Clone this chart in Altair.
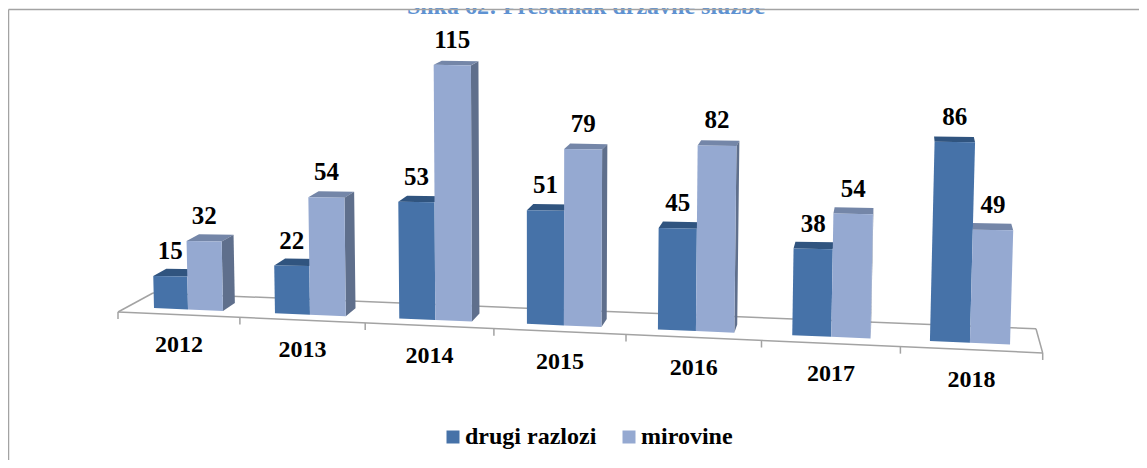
import altair as alt
import pandas as pd

# ---- data ----
years = ["2012", "2013", "2014", "2015", "2016", "2017", "2018"]
drugi_razlozi = [15, 22, 53, 51, 45, 38, 86]
mirovine = [32, 54, 115, 79, 82, 54, 49]
series_names = ["drugi razlozi", "mirovine"]
title_text = "Slika 62: Prestanak državne službe"

SERIF = "Liberation Serif"
W, H = 1131, 452
FRONT = {"drugi razlozi": "#4672A8", "mirovine": "#95A9D1"}
TOP = {"drugi razlozi": "#30547F", "mirovine": "#7486A8"}
SIDE = {"drugi razlozi": "#30547F", "mirovine": "#5F6F8C"}
GREY = "#A3A3A3"

xs = alt.Scale(domain=[8, 8 + W], nice=False, zero=False)
ys = alt.Scale(domain=[8 + H, 8], nice=False, zero=False)


# ---- oblique projection of the 3-D scene onto the page ----
def bar_left(i):
    return 154 + 119.3 * i + 1.67 * i * i

def floor_y(x):
    return 308 + 0.0425 * (x - 154)

def px_per_unit(i, v):
    return 2.13 + 0.027 * i + 0.0003 * v

def lean(x, h):
    return 0.00006 * (x - 540) * h

def depth_x(x):
    return 0.0175 * (900 - x)

def depth_y(y):
    return 3 + 0.0155 * y

def tick_x(i):
    return 118 + 120.2 * i + 1.7 * i * i

def front_y(x):
    return 312 + 0.0443 * (x - 118)

def back_y(x):
    return 293 + 0.0405 * (x - 153)


def polygon_rows(points):
    """Split a convex polygon into left/right spans for a horizontal area."""
    levels = sorted({p[1] for p in points})
    n = len(points)
    rows = []
    for y in levels:
        found = []
        for k in range(n):
            (x1, y1), (x2, y2) = points[k], points[(k + 1) % n]
            if min(y1, y2) <= y <= max(y1, y2):
                if y1 == y2:
                    found += [x1, x2]
                else:
                    found.append(x1 + (y - y1) / (y2 - y1) * (x2 - x1))
        rows.append((y, min(found), max(found)))
    return rows


front_rows, shade_rows, value_rows = [], [], []
for i, year in enumerate(years):
    left = bar_left(i)
    w1 = 34 + i
    w2 = 35 + 0.85 * i
    spans = [
        ("drugi razlozi", drugi_razlozi[i], left, left + w1),
        ("mirovine", mirovine[i], left + w1, left + w1 + w2),
    ]
    for name, v, xl, xr in spans:
        h = v * px_per_unit(i, v)
        yb_l, yb_r = floor_y(xl), floor_y(xr)
        ln_l, ln_r = lean(xl, h), lean(xr, h)
        fbl, fbr = (xl, yb_l), (xr, yb_r)
        ftl = (xl + ln_l, yb_l - h)
        ftr = (xr + ln_r, yb_l - h + 0.015 * (xr - xl))
        dx_r, dx_l = depth_x(xr), depth_x(xl)
        dy_t = depth_y(ftl[1])
        btl = (ftl[0] + dx_l, ftl[1] - dy_t)
        btr = (ftr[0] + dx_r, ftr[1] - dy_t)
        bbr = (xr + dx_r, yb_r - depth_y(yb_r))
        fid = f"{year}-{name}"
        for y, a, b in polygon_rows([ftl, ftr, fbr, fbl]):
            front_rows.append(dict(face=fid, series=name, y=y, x=a, x2=b))
        for y, a, b in polygon_rows([btl, btr, ftr, ftl]):
            shade_rows.append(dict(face=fid + "-top", c=TOP[name], y=y, x=a, x2=b))
        if dx_r > 0.4 and name == "mirovine":
            for y, a, b in polygon_rows([ftr, btr, bbr, fbr]):
                shade_rows.append(dict(face=fid + "-side", c=SIDE[name], y=y, x=a, x2=b))
        value_rows.append(dict(x=(xl + xr) / 2 + (ln_l + ln_r) / 2, y=yb_l - h - 25, t=str(v)))

front_df = pd.DataFrame(front_rows)
shade_df = pd.DataFrame(shade_rows)
value_df = pd.DataFrame(value_rows)

# floor
floor_rows = [
    dict(x=tick_x(0), y=front_y(tick_x(0)), x2=tick_x(7), y2=front_y(tick_x(7))),
    dict(x=tick_x(0), y=front_y(tick_x(0)), x2=153, y2=back_y(153)),
    dict(x=153, y=back_y(153), x2=1036, y2=back_y(1036)),
    dict(x=1036, y=back_y(1036), x2=tick_x(7), y2=front_y(tick_x(7))),
]
for i in range(8):
    t = tick_x(i)
    floor_rows.append(dict(x=t, y=front_y(t), x2=t, y2=front_y(t) + 7))
floor_df = pd.DataFrame(floor_rows)

year_df = pd.DataFrame(
    [
        dict(
            x=(tick_x(i) + tick_x(i + 1)) / 2,
            y=front_y((tick_x(i) + tick_x(i + 1)) / 2) + 30,
            t=y,
        )
        for i, y in enumerate(years)
    ]
)

frame_df = pd.DataFrame(
    [
        dict(x=8.5, y=9.5, x2=8.5, y2=8 + H),
        dict(x=8.5, y=9.5, x2=8 + W, y2=9.5),
    ]
)
title_df = pd.DataFrame([dict(x=586, y=14, t=title_text)])


def rules(df, width):
    return (
        alt.Chart(df)
        .mark_rule(color=GREY, strokeWidth=width)
        .encode(
            x=alt.X("x:Q", scale=xs, axis=None),
            y=alt.Y("y:Q", scale=ys, axis=None),
            x2="x2:Q",
            y2="y2:Q",
        )
    )


shade = (
    alt.Chart(shade_df)
    .mark_area(orient="horizontal", interpolate="linear")
    .encode(
        x=alt.X("x:Q", scale=xs, axis=None),
        x2="x2:Q",
        y=alt.Y("y:Q", scale=ys, axis=None),
        detail="face:N",
        fill=alt.Fill("c:N", scale=None),
    )
)

front = (
    alt.Chart(front_df)
    .mark_area(orient="horizontal", interpolate="linear")
    .encode(
        x=alt.X("x:Q", scale=xs, axis=None),
        x2="x2:Q",
        y=alt.Y("y:Q", scale=ys, axis=None),
        detail="face:N",
        color=alt.Color(
            "series:N",
            scale=alt.Scale(domain=series_names, range=[FRONT[s] for s in series_names]),
            legend=alt.Legend(
                orient="none",
                legendX=433,
                legendY=417,
                direction="horizontal",
                title=None,
                symbolType="square",
                symbolSize=169,
                symbolStrokeWidth=0,
                labelFont=SERIF,
                labelFontSize=24,
                labelFontWeight="bold",
                labelColor="#000000",
                labelOffset=0,
                columnPadding=20,
                padding=0,
            ),
        ),
    )
)


def texts(df, size, color="#000000"):
    return (
        alt.Chart(df)
        .mark_text(font=SERIF, fontSize=size, fontWeight="bold", color=color, baseline="middle", align="center")
        .encode(
            x=alt.X("x:Q", scale=xs, axis=None),
            y=alt.Y("y:Q", scale=ys, axis=None),
            text="t:N",
        )
    )


title_mark = (
    alt.Chart(title_df)
    .mark_text(font=SERIF, fontSize=24, fontWeight="bold", color="#5E92D2", baseline="alphabetic", align="center", clip=True)
    .encode(
        x=alt.X("x:Q", scale=xs, axis=None),
        y=alt.Y("y:Q", scale=ys, axis=None),
        text="t:N",
    )
)

chart = (
    alt.layer(
        title_mark,
        rules(frame_df, 1.5),
        rules(floor_df, 1.5),
        shade,
        front,
        texts(value_df, 25),
        texts(year_df, 24),
    )
    .properties(width=W, height=H, padding=0, autosize=alt.AutoSizeParams(type="none"))
    .configure_view(stroke=None)
)

chart.save("out.html", embed_options={"renderer": "svg", "actions": False})
